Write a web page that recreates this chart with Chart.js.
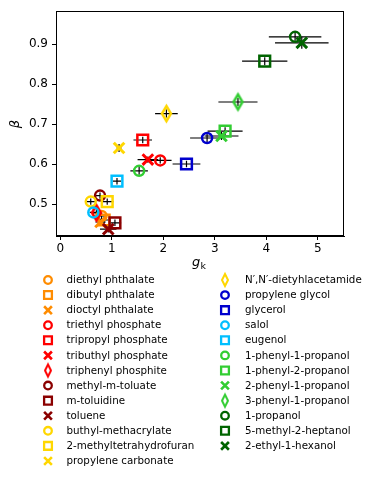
<!DOCTYPE html>
<html>
<head>
<meta charset="utf-8">
<script src="https://cdn.jsdelivr.net/npm/chart.js@4/dist/chart.umd.min.js"></script>
<style>
  html, body { margin: 0; padding: 0; background: #fff; }
</style>
</head>
<body>
<canvas id="chart" width="374" height="479"></canvas>
<script>
const names = [
  'diethyl phthalate', 'dibutyl phthalate', 'dioctyl phthalate',
  'triethyl phosphate', 'tripropyl phosphate', 'tributhyl phosphate', 'triphenyl phosphite',
  'methyl-m-toluate', 'm-toluidine', 'toluene',
  'buthyl-methacrylate', '2-methyltetrahydrofuran', 'propylene carbonate',
  'N\u2032,N\u2032-dietyhlacetamide', 'propylene glycol', 'glycerol', 'salol', 'eugenol',
  '1-phenyl-1-propanol', '1-phenyl-2-propanol', '2-phenyl-1-propanol', '3-phenyl-1-propanol',
  '1-propanol', '5-methyl-2-heptanol', '2-ethyl-1-hexanol'
];
const gk = [0.80, 0.85, 0.78, 1.94, 1.60, 1.70, 0.70, 0.77, 1.06, 0.93, 0.59, 0.91, 1.14,
            2.06, 2.85, 2.45, 0.64, 1.10, 1.53, 3.20, 3.13, 3.45, 4.56, 3.97, 4.69];
const beta = [0.470, 0.460, 0.455, 0.609, 0.660, 0.611, 0.478, 0.521, 0.453, 0.437, 0.506, 0.506, 0.640,
              0.726, 0.665, 0.600, 0.479, 0.557, 0.583, 0.682, 0.670, 0.755, 0.918, 0.857, 0.903];
const gkErr = [0.10, 0.10, 0.10, 0.22, 0.18, 0.20, 0.08, 0.08, 0.12, 0.16, 0.08, 0.12, 0.05,
               0.22, 0.33, 0.27, 0.07, 0.08, 0.17, 0.34, 0.33, 0.38, 0.51, 0.44, 0.52];
const betaErr = [0.008, 0.008, 0.008, 0.008, 0.008, 0.008, 0.008, 0.008, 0.008, 0.008, 0.008, 0.008, 0.01,
                 0.01, 0.01, 0.008, 0.008, 0.008, 0.01, 0.01, 0.01, 0.01, 0.01, 0.01, 0.015];
const colors = [
  '#ff8c00', '#ff8c00', '#ff8c00',
  '#ff0000', '#ff0000', '#ff0000', '#ff0000',
  '#8b0000', '#8b0000', '#8b0000',
  '#ffd700', '#ffd700', '#ffd700', '#ffd700',
  '#0000cd', '#0000cd', '#00bfff', '#00bfff',
  '#32cd32', '#32cd32', '#32cd32', '#32cd32',
  '#006400', '#006400', '#006400'
];
const markers = ['o', 's', 'x', 'o', 's', 'x', 'd', 'o', 's', 'x', 'o', 's', 'x',
                 'd', 'o', 's', 'o', 's', 'o', 's', 'x', 'd', 'o', 's', 'x'];
const xTicks = [0, 1, 2, 3, 4, 5];
const yTicks = [0.5, 0.6, 0.7, 0.8, 0.9];

const FONT = 'DejaVu Sans';

function diamondImg(color, w, h, lw) {
  const c = document.createElement('canvas');
  c.width = Math.ceil(w + lw * 4);
  c.height = Math.ceil(h + lw * 4);
  const g = c.getContext('2d');
  const cx = c.width / 2, cy = c.height / 2;
  g.strokeStyle = color;
  g.lineWidth = lw;
  g.beginPath();
  g.moveTo(cx, cy - h / 2);
  g.lineTo(cx + w / 2, cy);
  g.lineTo(cx, cy + h / 2);
  g.lineTo(cx - w / 2, cy);
  g.closePath();
  g.stroke();
  return c;
}

function markerOpts(m, color, small) {
  if (m === 'o') return { pointStyle: 'circle', radius: small ? 3.8 : 5, borderWidth: small ? 2.3 : 2.5 };
  if (m === 's') return { pointStyle: 'rect', radius: small ? 5.5 : 7.6, borderWidth: small ? 2.3 : 2.5 };
  if (m === 'x') return { pointStyle: 'crossRot', radius: small ? 5.5 : 7.5, borderWidth: small ? 2.6 : 3 };
  return { pointStyle: small ? diamondImg(color, 6, 12, 2) : diamondImg(color, 9, 15, 2.5), radius: 6, borderWidth: 2 };
}

const datasets = names.map((n, i) => {
  const o = markerOpts(markers[i], colors[i], false);
  return {
    label: n,
    data: [{ x: gk[i], y: beta[i] }],
    pointStyle: o.pointStyle,
    pointRadius: o.radius,
    pointHoverRadius: o.radius,
    pointBorderWidth: o.borderWidth,
    borderColor: colors[i],
    backgroundColor: 'rgba(0,0,0,0)',
    order: -i
  };
});

const errorBars = {
  id: 'errorBars',
  beforeDatasetsDraw(chart) {
    const { ctx, scales: { x, y } } = chart;
    ctx.save();
    ctx.strokeStyle = '#000';
    ctx.lineWidth = 1.2;
    names.forEach((n, i) => {
      const px = x.getPixelForValue(gk[i]);
      const py = y.getPixelForValue(beta[i]);
      ctx.beginPath();
      ctx.moveTo(x.getPixelForValue(gk[i] - gkErr[i]), py);
      ctx.lineTo(x.getPixelForValue(gk[i] + gkErr[i]), py);
      ctx.moveTo(px, y.getPixelForValue(beta[i] - betaErr[i]));
      ctx.lineTo(px, y.getPixelForValue(beta[i] + betaErr[i]));
      ctx.stroke();
    });
    ctx.restore();
  }
};

const extras = {
  id: 'extras',
  afterDraw(chart) {
    const { ctx, chartArea: a } = chart;
    ctx.save();
    // frame
    ctx.strokeStyle = '#000';
    ctx.lineWidth = 1;
    ctx.strokeRect(Math.round(a.left) + 0.5, Math.round(a.top) + 0.5,
                   Math.round(a.right - a.left) - 1, Math.round(a.bottom - a.top) - 1);
    // axis labels
    ctx.fillStyle = '#000';
    ctx.textBaseline = 'alphabetic';
    ctx.textAlign = 'left';
    ctx.font = 'italic 13px ' + FONT;
    ctx.fillText('g', 192, 266);
    ctx.font = '9.5px ' + FONT;
    ctx.fillText('k', 200.5, 269);
    ctx.save();
    ctx.translate(19, 124);
    ctx.rotate(-Math.PI / 2);
    ctx.textAlign = 'center';
    ctx.font = 'italic 13px ' + FONT;
    ctx.fillText('\u03b2', 0, 0);
    ctx.restore();
    // legend
    ctx.font = '10.3px ' + FONT;
    ctx.textBaseline = 'middle';
    names.forEach((n, i) => {
      const col = i < 13 ? 0 : 1;
      const row = i < 13 ? i : i - 13;
      const mx = col ? 225 : 48;
      const tx = col ? 245 : 66.5;
      const my = 280 + row * 15.08;
      const o = markerOpts(markers[i], colors[i], true);
      ctx.strokeStyle = colors[i];
      ctx.fillStyle = 'rgba(0,0,0,0)';
      ctx.lineWidth = o.borderWidth;
      Chart.helpers.drawPoint(ctx, { pointStyle: o.pointStyle, radius: o.radius, borderWidth: o.borderWidth, rotation: 0 }, mx, my);
      ctx.fillStyle = '#000';
      ctx.fillText(n, tx, my + 0.5);
    });
    ctx.restore();
  }
};

new Chart(document.getElementById('chart'), {
  type: 'scatter',
  data: { datasets },
  options: {
    responsive: false,
    animation: false,
    events: [],
    layout: { padding: { top: 7, right: 30, left: 0, bottom: 0 } },
    plugins: { legend: { display: false }, tooltip: { enabled: false } },
    scales: {
      x: {
        type: 'linear',
        min: -0.085,
        max: 5.51,
        afterBuildTicks: s => { s.ticks = xTicks.map(v => ({ value: v })); },
        afterFit: s => { s.height = 243; },
        ticks: { color: '#000', font: { family: FONT, size: 12 }, padding: 2, callback: v => String(v) },
        grid: { drawOnChartArea: false, color: '#000', tickLength: 4 },
        border: { color: '#000' }
      },
      y: {
        type: 'linear',
        min: 0.42,
        max: 0.982,
        afterBuildTicks: s => { s.ticks = yTicks.map(v => ({ value: v })); },
        afterFit: s => { s.width = 56; },
        ticks: { color: '#000', font: { family: FONT, size: 12 }, padding: 4, callback: v => v.toFixed(1) },
        grid: { drawOnChartArea: false, color: '#000', tickLength: 4 },
        border: { color: '#000' }
      }
    }
  },
  plugins: [errorBars, extras]
});
</script>
</body>
</html>
